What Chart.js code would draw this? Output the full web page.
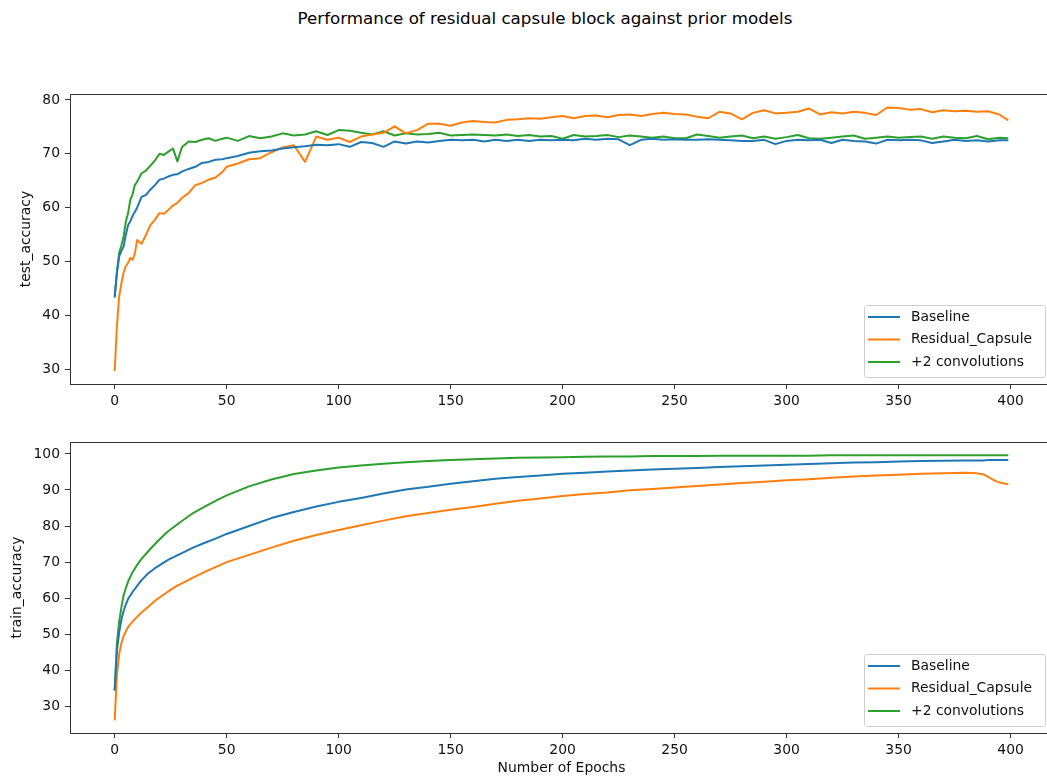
<!DOCTYPE html>
<html>
<head>
<meta charset="utf-8">
<title>Residual capsule block performance</title>
<script src="https://cdn.jsdelivr.net/npm/chart.js@4.4.1/dist/chart.umd.min.js"></script>
<style>
  html, body { margin: 0; padding: 0; background: #fff; overflow: hidden; }
  body { width: 1047px; height: 780px; position: relative; }
  #suptitle {
    position: absolute; left: 0; top: 8px; width: 1090px;
    text-align: center; font: 16.7px "DejaVu Sans"; line-height: 20px; color: #000;
  }
  canvas { position: absolute; left: 0; }
  #testChart { top: 0; }
  #trainChart { top: 420px; }
</style>
</head>
<body>
<div id="suptitle">Performance of residual capsule block against prior models</div>
<canvas id="testChart" width="1053" height="420"></canvas>
<canvas id="trainChart" width="1053" height="360"></canvas>
<script>
// ---- data ----
const seriesNames = ['Baseline', 'Residual_Capsule', '+2 convolutions'];
const seriesColors = ['#1f77b4', '#ff7f0e', '#2ca02c'];

const epochTicks = [0, 50, 100, 150, 200, 250, 300, 350, 400];
const testTicks = [30, 40, 50, 60, 70, 80];
const trainTicks = [30, 40, 50, 60, 70, 80, 90, 100];

// test accuracy, sampled epochs
const testEpochs = [0, 1, 2, 3, 4, 5, 6, 7, 8, 9, 10,
  12, 14, 16, 18, 20, 22, 24, 26, 28, 30,
  33, 36, 39, 42, 45, 48,
  50, 55, 60, 65, 70, 75, 80, 85, 90, 95,
  100, 105, 110, 115, 120, 125, 130, 135, 140, 145,
  150, 155, 160, 165, 170, 175, 180, 185, 190, 195,
  200, 205, 210, 215, 220, 225, 230, 235, 240, 245,
  250, 255, 260, 265, 270, 275, 280, 285, 290, 295,
  300, 305, 310, 315, 320, 325, 330, 335, 340, 345,
  350, 355, 360, 365, 370, 375, 380, 385, 390, 395, 399];

const testBaseline = [43.3, 48, 51, 52, 52.8, 55, 56.8, 57.5, 58.5, 59.2, 60,
  62, 62.4, 63.4, 64.2, 65.2, 65.4, 65.8, 66.1, 66.2, 66.7,
  67.2, 67.6, 68.3, 68.5, 68.9, 69,
  69.2, 69.6, 70.2, 70.5, 70.6, 71.0, 71.2, 71.4, 71.7, 71.6,
  71.8, 71.3, 72.2, 72.0, 71.3, 72.3, 71.9, 72.3, 72.1, 72.4,
  72.6, 72.5, 72.6, 72.3, 72.6, 72.4, 72.6, 72.4, 72.6, 72.5,
  72.6, 72.5, 72.8, 72.6, 72.8, 72.7, 71.6, 72.6, 72.8, 72.6,
  72.7, 72.6, 72.6, 72.7, 72.6, 72.5, 72.4, 72.4, 72.6, 71.8,
  72.4, 72.6, 72.5, 72.6, 72.0, 72.6, 72.4, 72.3, 71.9, 72.6,
  72.5, 72.6, 72.5, 72.0, 72.3, 72.6, 72.4, 72.5, 72.3, 72.5, 72.5];

const testResidual = [29.7, 38, 43.5, 46, 48, 49.2, 49.8, 50.7, 50.3, 51.5, 54,
  53.3, 55, 56.8, 57.8, 59, 58.9, 59.6, 60.4, 60.9, 61.8,
  62.7, 64.2, 64.6, 65.2, 65.6, 66.6,
  67.6, 68.2, 69.0, 69.2, 70.3, 71.2, 71.6, 68.5, 73.2, 72.6,
  73.0, 72.2, 73.2, 73.6, 73.9, 75.1, 73.8, 74.4, 75.6, 75.6,
  75.2, 75.8, 76.1, 75.9, 75.8, 76.3, 76.4, 76.6, 76.5, 76.8,
  77.0, 76.6, 77.0, 77.1, 76.8, 77.2, 77.3, 77.0, 77.4, 77.6,
  77.4, 77.3, 76.9, 76.6, 77.8, 77.5, 76.4, 77.6, 78.1, 77.5,
  77.6, 77.8, 78.4, 77.3, 77.7, 77.5, 77.8, 77.6, 77.2, 78.6,
  78.5, 78.2, 78.3, 77.7, 78.1, 77.9, 78.0, 77.8, 77.9, 77.3, 76.2];

const testConv = [43.6, 48, 51.6, 53, 54.7, 57.5, 59, 61.5, 62.5, 64.2, 64.8,
  66.4, 66.9, 67.8, 68.8, 70, 69.8, 70.4, 71, 68.6, 71.2,
  72.3, 72.2, 72.6, 72.9, 72.4, 72.8,
  73.0, 72.4, 73.3, 72.9, 73.2, 73.8, 73.4, 73.6, 74.2, 73.5,
  74.4, 74.3, 73.9, 73.6, 74.2, 73.4, 73.8, 73.6, 73.7, 73.9,
  73.4, 73.5, 73.6, 73.5, 73.4, 73.6, 73.3, 73.5, 73.2, 73.3,
  72.8, 73.5, 73.2, 73.3, 73.5, 73.1, 73.4, 73.2, 73.0, 73.2,
  72.9, 72.9, 73.6, 73.3, 73.0, 73.2, 73.4, 72.9, 73.2, 72.8,
  73.1, 73.5, 72.9, 72.8, 73.0, 73.2, 73.4, 72.8, 73.0, 73.2,
  73.0, 73.1, 73.2, 72.8, 73.2, 73.0, 72.9, 73.3, 72.7, 73.0, 72.9];

// train accuracy, sampled epochs
const trainEpochs = [0, 1, 2, 3, 4, 5, 6, 8, 10, 12,
  15, 18, 21, 24, 27, 30, 35, 40, 45, 50,
  60, 70, 80, 90, 100, 110, 120, 130, 140, 150,
  160, 170, 180, 190, 200, 210, 220, 230, 240, 250,
  260, 270, 280, 290, 300, 310, 320, 330, 340, 350,
  360, 370, 380, 385, 388, 390, 392, 394, 396, 399];

const trainBaseline = [34.4, 45.5, 50.5, 54, 56.5, 58.3, 59.8, 61.7, 63.4, 65.0,
  66.9, 68.3, 69.5, 70.7, 71.6, 72.5, 74.0, 75.3, 76.5, 77.8,
  80.0, 82.2, 83.9, 85.4, 86.7, 87.8, 89.0, 90.1, 90.9, 91.7,
  92.4, 93.1, 93.6, 94.0, 94.5, 94.8, 95.1, 95.4, 95.7, 95.9,
  96.1, 96.4, 96.6, 96.8, 97.0, 97.2, 97.4, 97.6, 97.7, 97.9,
  98.0, 98.1, 98.2, 98.2, 98.2, 98.3, 98.3, 98.3, 98.3, 98.3];

const trainResidual = [26.1, 38.5, 44.5, 47.5, 49.5, 50.8, 52.0, 53.5, 54.8, 56.0,
  57.6, 59.3, 60.6, 61.9, 63.1, 64.1, 65.7, 67.2, 68.6, 70.0,
  72.0, 74.0, 75.9, 77.5, 78.9, 80.2, 81.5, 82.7, 83.6, 84.5,
  85.3, 86.2, 87.0, 87.6, 88.3, 88.9, 89.3, 89.9, 90.3, 90.7,
  91.1, 91.5, 91.9, 92.3, 92.7, 93.0, 93.4, 93.7, 94.0, 94.2,
  94.5, 94.6, 94.8, 94.6, 94.3, 93.6, 92.9, 92.3, 91.9, 91.6];

const trainConv = [34.4, 47.5, 53.5, 57.5, 60.8, 62.8, 64.6, 67.2, 69.2, 70.9,
  73.0, 75.0, 76.9, 78.6, 80.0, 81.4, 83.6, 85.3, 87.0, 88.5,
  91.0, 92.9, 94.4, 95.4, 96.2, 96.8, 97.3, 97.7, 98.0, 98.3,
  98.5, 98.7, 98.9, 99.0, 99.1, 99.2, 99.3, 99.3, 99.4, 99.4,
  99.4, 99.5, 99.5, 99.5, 99.5, 99.5, 99.6, 99.6, 99.6, 99.6,
  99.6, 99.6, 99.6, 99.6, 99.6, 99.6, 99.6, 99.6, 99.6, 99.6];

// ---- drawing ----
Chart.defaults.font.family = 'DejaVu Sans';
Chart.defaults.font.size = 13.9;
Chart.defaults.color = '#111';

// box around the plot area plus a matplotlib-like legend in the lower right
const frameAndLegend = {
  id: 'frameAndLegend',
  afterDatasetsDraw(chart) {
    const a = chart.chartArea;
    const ctx = chart.ctx;
    ctx.save();
    ctx.strokeStyle = '#333';
    ctx.lineWidth = 1;
    ctx.strokeRect(Math.round(a.left) + 0.5, Math.round(a.top) + 0.5,
      Math.round(a.right - a.left), Math.round(a.bottom - a.top));

    const w = 181, h = 72;
    const x0 = a.right - 8 - w;
    const y0 = a.bottom - 7 - h;
    ctx.beginPath();
    ctx.roundRect(x0 + 0.5, y0 + 0.5, w, h, 3);
    ctx.fillStyle = 'rgba(255,255,255,0.8)';
    ctx.fill();
    ctx.strokeStyle = '#cccccc';
    ctx.stroke();

    ctx.font = '13.9px "DejaVu Sans"';
    ctx.textBaseline = 'middle';
    ctx.textAlign = 'left';
    const rows = [12, 34.5, 57];
    chart.data.datasets.forEach((ds, i) => {
      const yy = y0 + rows[i];
      ctx.beginPath();
      ctx.moveTo(x0 + 4, yy);
      ctx.lineTo(x0 + 36, yy);
      ctx.strokeStyle = ds.borderColor;
      ctx.lineWidth = 2;
      ctx.stroke();
      ctx.fillStyle = '#111';
      ctx.fillText(ds.label, x0 + 47, yy);
    });
    ctx.restore();
  }
};

function makeChart(id, xs, ys, opts) {
  const datasets = ys.map((vals, i) => ({
    label: seriesNames[i],
    data: xs.map((x, j) => ({ x: x, y: vals[j] })),
    borderColor: seriesColors[i],
    borderWidth: 2,
    borderJoinStyle: 'round',
    pointRadius: 0,
    tension: 0,
    fill: false
  }));

  return new Chart(document.getElementById(id), {
    type: 'line',
    data: { datasets: datasets },
    plugins: [frameAndLegend],
    options: {
      responsive: false,
      animation: false,
      layout: { padding: { top: opts.padTop, left: 0, right: 0, bottom: 0 } },
      plugins: { legend: { display: false }, tooltip: { enabled: false } },
      scales: {
        x: {
          type: 'linear',
          min: -19.95,
          max: 418.95,
          afterBuildTicks: s => { s.ticks = epochTicks.map(v => ({ value: v })); },
          afterFit: s => { s.height = opts.xHeight; },
          ticks: { padding: 4, color: '#111' },
          grid: { drawOnChartArea: false, drawTicks: true, tickLength: 5, color: '#333' },
          border: { display: false },
          title: {
            display: !!opts.xTitle,
            text: opts.xTitle || '',
            padding: { top: 0, bottom: 3 },
            color: '#111'
          }
        },
        y: {
          type: 'linear',
          min: opts.yMin,
          max: opts.yMax,
          afterBuildTicks: s => { s.ticks = opts.yTicks.map(v => ({ value: v })); },
          afterFit: s => { s.width = 70; },
          ticks: { padding: 5, color: '#111' },
          grid: { drawOnChartArea: false, drawTicks: true, tickLength: 5, color: '#333' },
          border: { display: false },
          title: {
            display: true,
            text: opts.yTitle,
            padding: { top: opts.yTitlePad, bottom: 0 },
            color: '#111'
          }
        }
      }
    }
  });
}

const testChart = makeChart('testChart', testEpochs, [testBaseline, testResidual, testConv], {
  padTop: 94, xHeight: 36, yMin: 27.3, yMax: 81.1, yTicks: testTicks,
  yTitle: 'test_accuracy', yTitlePad: 18.5
});

const trainChart = makeChart('trainChart', trainEpochs, [trainBaseline, trainResidual, trainConv], {
  padTop: 22, xHeight: 47, yMin: 22.6, yMax: 103.3, yTicks: trainTicks,
  yTitle: 'train_accuracy', yTitlePad: 9.5, xTitle: 'Number of Epochs'
});
</script>
</body>
</html>
